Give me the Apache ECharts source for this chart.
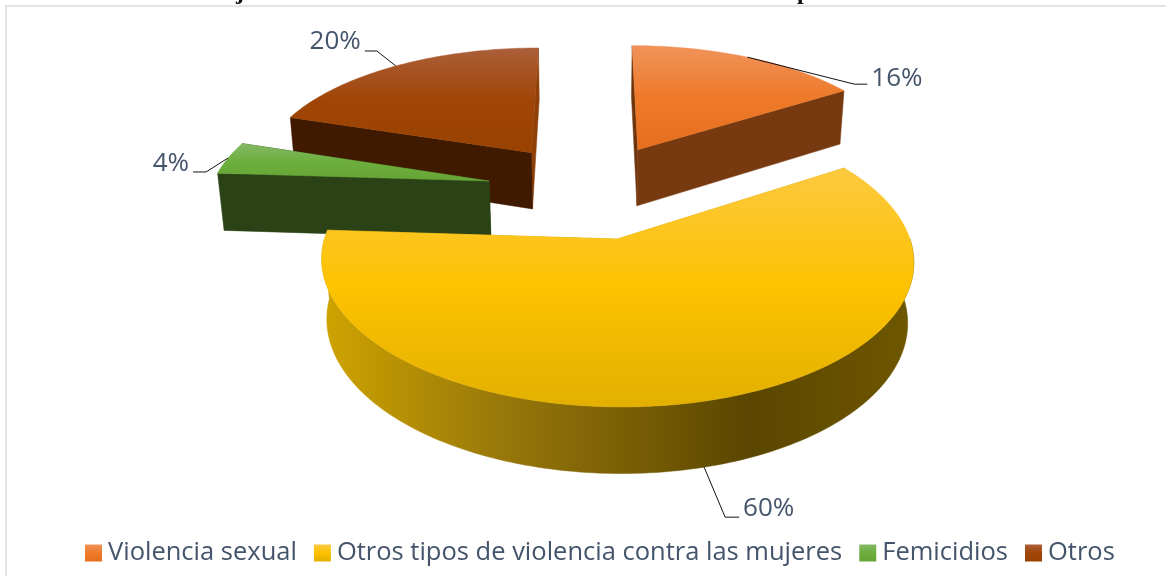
<!DOCTYPE html>
<html style="height: 100%">
<head>
<meta charset="utf-8">
<title>Violencia</title>
<style>body{margin:0;background:#fff}</style>
</head>
<body>
<div id="container" style="width:1166px;height:576px"></div>
<script src="https://cdn.jsdelivr.net/npm/echarts@6/dist/echarts.min.js"></script>
<script>
var categories = ['Violencia sexual', 'Otros tipos de violencia contra las mujeres', 'Femicidios', 'Otros'];
var percents = [16, 60, 4, 20];
var topColors = [
    ['#f0935a', '#ee7a2a', '#e66e1e'],
    ['#fcc93f', '#fdc200', '#e3b000'],
    ['#84b864', '#6cae3c', '#66a536'],
    ['#ab5f3a', '#a04506', '#994200']
];
var wallColors = ['#77390f', '#c99f00', '#2a4215', '#401a00'];
var sliverColors = ['#6e350e', '#c99f00', '#2a4215', '#8f4008'];
// elbow and end of the leader, and text position, relative to the rim
var leaders = [
    {dx: [107, 120], dy: [27, 27], align: 'left', tx: 124, ty: 21},
    {dx: [21, 35], dy: [50, 50], align: 'left', tx: 39, ty: 41},
    {dx: [-22, -35], dy: [14, 14], align: 'right', tx: -39, ty: 6},
    {dx: [-19, -31], dy: [-15, -15], align: 'right', tx: -35, ty: -24}
];
// draw order, back to front
var zOrder = [2, 4, 3, 1];

// camera model of the tilted pie
var cam = {cx: 590, cy: 190, R: 278, A: 129, q: 0.14, e: 0.018, H: 59, explode: 0.373};

function project(u, v, z) {
    var s = 1 / (1 - v * cam.q + z * cam.e);
    return [cam.cx + u * cam.R * s, cam.cy + (v * cam.A + z * cam.H) * s];
}
var total = percents.reduce(function (a, b) { return a + b; }, 0);
function startAngle(idx) {
    var sum = 0;
    for (var i = 0; i < idx; i++) sum += percents[i];
    return sum / total * Math.PI * 2;
}
function topGradient(i) {
    var c = topColors[i];
    return new echarts.graphic.LinearGradient(0, 0, 0, 1, [
        {offset: 0, color: c[0]}, {offset: 0.5, color: c[1]}, {offset: 1, color: c[2]}
    ]);
}
function poly(points, fill, z2) {
    return {
        type: 'polygon', z2: z2, shape: {points: points},
        style: {fill: fill, stroke: fill, lineWidth: 0.5}
    };
}
function renderSlice(params, api) {
    var i = params.seriesIndex;
    var a0 = startAngle(i);
    var a1 = a0 + api.value(0) / total * Math.PI * 2;
    var mid = (a0 + a1) / 2;
    var ox = Math.sin(mid) * cam.explode, oy = -Math.cos(mid) * cam.explode;
    var steps = Math.max(12, Math.round(api.value(0) * 3));
    var arcTop = [], rim = [], rimLow = [];
    for (var k = 0; k <= steps; k++) {
        var a = a0 + (a1 - a0) * k / steps;
        var u = ox + Math.sin(a), v = oy - Math.cos(a);
        arcTop.push(project(u, v, 0));
        if (-Math.cos(a) > -0.02) {
            rim.push(project(u, v, 0));
            rimLow.unshift(project(u, v, 1));
        }
    }
    var wall = function (a) {
        var u = ox + Math.sin(a), v = oy - Math.cos(a);
        return [project(ox, oy, 0), project(u, v, 0), project(u, v, 1), project(ox, oy, 1)];
    };
    // the first slice shows its end wall, the others their start wall
    var children = [
        poly(wall(i === 0 ? a0 : a1), sliverColors[i], 1),
        poly(wall(i === 0 ? a1 : a0), wallColors[i], 2)
    ];
    if (rim.length) {
        children.push(poly(rim.concat(rimLow), new echarts.graphic.LinearGradient(0, 0, 1, 0, [
            {offset: 0, color: '#cfa400'}, {offset: 0.3, color: '#99780a'},
            {offset: 0.72, color: '#5a4600'}, {offset: 1, color: '#6f5700'}
        ]), 3));
    }
    children.push(poly([project(ox, oy, 0)].concat(arcTop), topGradient(i), 4));

    // leader line and percent label
    var anchor = project(ox + Math.sin(mid), oy - Math.cos(mid), rim.length ? 1 : 0);
    var l = leaders[i];
    children.push({
        type: 'polyline', z2: 5,
        shape: {points: [anchor, [anchor[0] + l.dx[0], anchor[1] + l.dy[0]], [anchor[0] + l.dx[1], anchor[1] + l.dy[1]]]},
        style: {stroke: '#111', lineWidth: 1, fill: null}
    });
    children.push({
        type: 'text', z2: 5,
        style: {
            x: anchor[0] + l.tx, y: anchor[1] + l.ty, text: api.value(0) + '%',
            fill: '#44546A', font: '26px "Open Sans"', align: l.align, verticalAlign: 'middle'
        }
    });
    return {type: 'group', children: children};
}

var myChart = echarts.init(document.getElementById('container'), null, {renderer: 'canvas'});
var series = categories.map(function (name, i) {
    return {
        name: name,
        type: 'custom',
        coordinateSystem: 'none',
        z: zOrder[i] + 1,
        silent: true,
        animation: false,
        itemStyle: {color: topGradient(i)},
        renderItem: renderSlice,
        data: [[percents[i]]]
    };
});
var option = {
    animation: false,
    graphic: [
        {type: 'rect', z: 0, shape: {x: 6, y: 6, width: 1200, height: 600}, style: {fill: '#fff', stroke: '#e0e5ea', lineWidth: 2}},
        {type: 'text', z: 1, style: {x: 236, y: -19, text: 'j', fill: '#111', font: 'bold 24px "Liberation Serif"'}},
        {type: 'text', z: 1, style: {x: 797, y: -19, text: 'p', fill: '#111', font: 'bold 24px "Liberation Serif"'}}
    ],
    legend: {
        left: 80,
        top: 535,
        itemWidth: 17,
        itemHeight: 17,
        itemGap: 17,
        icon: 'rect',
        selectedMode: false,
        data: categories,
        textStyle: {color: '#44546A', fontSize: 25.5, fontFamily: 'Open Sans', padding: [0, 0, 0, 1]}
    },
    series: series
};
myChart.setOption(option);
</script>
</body>
</html>
